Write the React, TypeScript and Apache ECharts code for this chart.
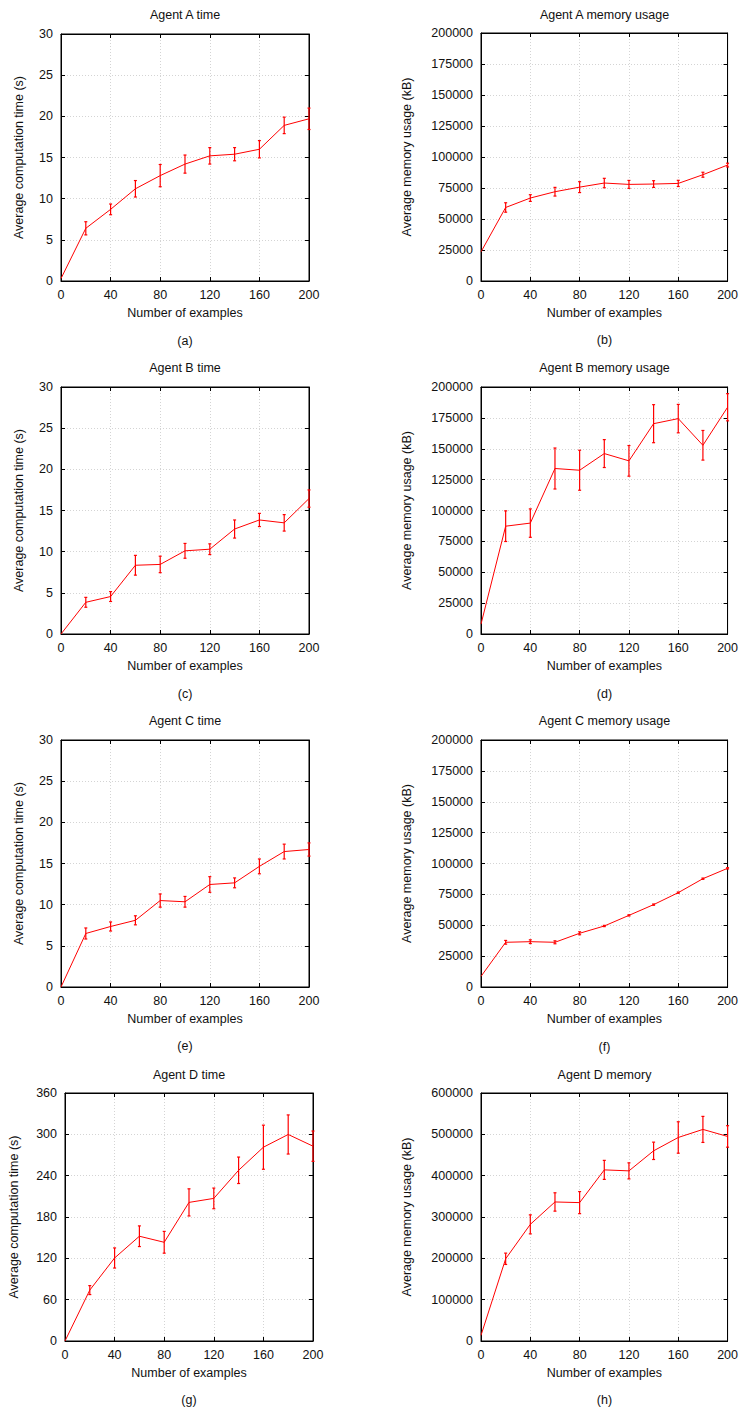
import React, { useEffect, useRef } from "react";
import * as echarts from "echarts";

const examples = [0, 20, 40, 60, 80, 100, 120, 140, 160, 180, 200];

const agentATimeMean = [0.3, 6.4, 8.7, 11.2, 12.8, 14.2, 15.2, 15.4, 16.0, 18.9, 19.7];
const agentATimeErr = [0, 0.8, 0.65, 1.0, 1.35, 1.1, 1.0, 0.8, 1.05, 1.0, 1.3];
const agentAMemMean = [23500, 59300, 66900, 72000, 75700, 79000, 77900, 78200, 78700, 85700, 93500];
const agentAMemErr = [0, 3800, 2700, 3500, 4400, 3800, 3200, 2700, 2500, 2000, 1500];
const agentBTimeMean = [0, 3.85, 4.55, 8.35, 8.45, 10.1, 10.3, 12.75, 13.85, 13.5, 16.45];
const agentBTimeErr = [0, 0.6, 0.6, 1.2, 1.0, 0.9, 0.65, 1.1, 0.8, 1.0, 1.05];
const agentBMemMean = [8000, 87300, 89800, 134000, 132600, 146100, 140200, 170300, 174400, 152800, 183600];
const agentBMemErr = [0, 12400, 11500, 16600, 16200, 11300, 12400, 15400, 11500, 12000, 11000];
const agentCTimeMean = [0, 6.5, 7.35, 8.1, 10.5, 10.35, 12.45, 12.65, 14.65, 16.45, 16.7];
const agentCTimeErr = [0, 0.67, 0.55, 0.55, 0.8, 0.65, 0.95, 0.6, 0.9, 0.9, 0.8];
const agentCMemMean = [8600, 36200, 36700, 36200, 43500, 49400, 58000, 66700, 76400, 87700, 96100];
const agentCMemErr = [0, 1500, 1500, 1200, 1200, 500, 500, 500, 500, 500, 500];
const agentDTimeMean = [0, 73.9, 120.5, 152.1, 143.3, 201.2, 207, 247.8, 281.3, 299.8, 282.8];
const agentDTimeErr = [0, 6.5, 14.6, 15, 15.8, 19.7, 15, 19.2, 32, 28.4, 22];
const agentDMemMean = [13700, 198900, 282200, 336400, 334800, 414000, 411600, 460100, 492400, 511900, 494900];
const agentDMemErr = [0, 13700, 23000, 22200, 26700, 23000, 19400, 21000, 38000, 31500, 26000];

const titles = [
  "Agent A time", "Agent A memory usage",
  "Agent B time", "Agent B memory usage",
  "Agent C time", "Agent C memory usage",
  "Agent D time", "Agent D memory",
];
const subLabels = ["(a)", "(b)", "(c)", "(d)", "(e)", "(f)", "(g)", "(h)"];
const xName = "Number of examples";
const timeName = "Average computation time (s)";
const memName = "Average memory usage (kB)";

const FONT = '"Liberation Sans", Arial, Helvetica, sans-serif';
const FS = 12.5;
const RED = "#ff0000";
const TEXT = "#111";

const panels = [
  { mean: agentATimeMean, err: agentATimeErr, yName: timeName, max: 30, interval: 5, grid: { left: 61, top: 34, width: 248, height: 247 }, nameGap: 36, titleY: 15, labelY: 340.5 },
  { mean: agentAMemMean, err: agentAMemErr, yName: memName, max: 200000, interval: 25000, grid: { left: 481, top: 33, width: 247, height: 248 }, nameGap: 68, titleY: 15, labelY: 340 },
  { mean: agentBTimeMean, err: agentBTimeErr, yName: timeName, max: 30, interval: 5, grid: { left: 61, top: 387, width: 248, height: 247 }, nameGap: 36, titleY: 367.7, labelY: 693.5 },
  { mean: agentBMemMean, err: agentBMemErr, yName: memName, max: 200000, interval: 25000, grid: { left: 481, top: 387, width: 247, height: 247 }, nameGap: 68, titleY: 368, labelY: 694 },
  { mean: agentCTimeMean, err: agentCTimeErr, yName: timeName, max: 30, interval: 5, grid: { left: 61, top: 740, width: 248, height: 247 }, nameGap: 36, titleY: 720.7, labelY: 1046 },
  { mean: agentCMemMean, err: agentCMemErr, yName: memName, max: 200000, interval: 25000, grid: { left: 481, top: 740, width: 247, height: 247 }, nameGap: 68, titleY: 721, labelY: 1047 },
  { mean: agentDTimeMean, err: agentDTimeErr, yName: timeName, max: 360, interval: 60, grid: { left: 65, top: 1093, width: 248, height: 248 }, nameGap: 45, titleY: 1075, labelY: 1400 },
  { mean: agentDMemMean, err: agentDMemErr, yName: memName, max: 600000, interval: 100000, grid: { left: 481, top: 1093, width: 247, height: 248 }, nameGap: 68, titleY: 1075, labelY: 1400 },
];

function ts() {
  return { fontFamily: FONT, fontSize: FS, color: TEXT };
}
function frame() {
  return { show: true, onZero: false, lineStyle: { color: "#000", width: 1 } };
}
function tick() {
  return { show: true, inside: true, length: 4, lineStyle: { color: "#000", width: 1 } };
}
function split() {
  return { show: true, showMinLine: false, showMaxLine: false, lineStyle: { color: "#d4d4d4", type: [1, 2], width: 1 } };
}

function buildOption() {
  const grids: any[] = [];
  const xAxes: any[] = [];
  const yAxes: any[] = [];
  const series: any[] = [];
  const graphics: any[] = [];

  panels.forEach((p, i) => {
    grids.push({ ...p.grid, show: true, borderColor: "#000", borderWidth: 1, backgroundColor: "transparent" });
    xAxes.push({
      type: "value", gridIndex: i, min: 0, max: 200, interval: 40, position: "bottom",
      name: xName, nameLocation: "middle", nameGap: 25, nameTextStyle: ts(),
      axisLine: frame(), axisTick: tick(),
      axisLabel: { ...ts(), margin: 7, formatter: (v: number) => String(v) },
      splitLine: split(),
    });
    xAxes.push({
      type: "value", gridIndex: i, min: 0, max: 200, interval: 40, position: "top",
      axisLine: frame(), axisTick: tick(),
      axisLabel: { show: false }, splitLine: { show: false },
    });
    yAxes.push({
      type: "value", gridIndex: i, min: 0, max: p.max, interval: p.interval, position: "left",
      name: p.yName, nameLocation: "middle", nameGap: p.nameGap, nameRotate: 90, nameTextStyle: ts(),
      axisLine: frame(), axisTick: tick(),
      axisLabel: { ...ts(), margin: 8, formatter: (v: number) => String(v) },
      splitLine: split(),
    });
    yAxes.push({
      type: "value", gridIndex: i, min: 0, max: p.max, interval: p.interval, position: "right",
      axisLine: frame(), axisTick: tick(),
      axisLabel: { show: false }, splitLine: { show: false },
    });

    series.push({
      type: "line", xAxisIndex: 2 * i, yAxisIndex: 2 * i,
      data: examples.map((x, k) => [x, p.mean[k]]),
      symbol: "none", showSymbol: false,
      lineStyle: { color: RED, width: 1 }, itemStyle: { color: RED },
      z: 3,
    });

    const errData = examples
      .map((x, k) => [x, p.mean[k] - p.err[k], p.mean[k] + p.err[k]])
      .filter((d) => d[2] - d[1] > 0);

    series.push({
      type: "custom", xAxisIndex: 2 * i, yAxisIndex: 2 * i,
      data: errData,
      encode: { x: 0, y: [1, 2] },
      z: 4,
      renderItem: (params: any, api: any) => {
        const x = api.value(0);
        const lo = api.coord([x, api.value(1)]);
        const hi = api.coord([x, api.value(2)]);
        const c = 1.5;
        const st = { stroke: RED, lineWidth: 1.2 };
        return {
          type: "group",
          children: [
            { type: "line", shape: { x1: lo[0], y1: lo[1], x2: hi[0], y2: hi[1] }, style: st },
            { type: "line", shape: { x1: lo[0] - c, y1: lo[1], x2: lo[0] + c, y2: lo[1] }, style: st },
            { type: "line", shape: { x1: hi[0] - c, y1: hi[1], x2: hi[0] + c, y2: hi[1] }, style: st },
          ],
        };
      },
    });

    const cx = p.grid.left + p.grid.width / 2;
    graphics.push({
      type: "text", x: cx, y: p.titleY,
      style: { text: titles[i], fontFamily: FONT, fontSize: FS, fill: TEXT, align: "center", verticalAlign: "middle" },
    });
    graphics.push({
      type: "text", x: cx, y: p.labelY,
      style: { text: subLabels[i], fontFamily: FONT, fontSize: FS, fill: TEXT, align: "center", verticalAlign: "middle" },
    });
  });

  return {
    animation: false,
    backgroundColor: "#ffffff",
    grid: grids,
    xAxis: xAxes,
    yAxis: yAxes,
    series,
    graphic: graphics,
  };
}

export default function App() {
  const ref = useRef<HTMLDivElement>(null);
  useEffect(() => {
    if (!ref.current) return;
    const chart = echarts.init(ref.current, undefined, { renderer: "svg" });
    chart.setOption(buildOption());
    return () => chart.dispose();
  }, []);
  return (
    <div
      ref={ref}
      style={{ position: "absolute", left: 0, top: 0, width: 741, height: 1409, background: "#fff" }}
    />
  );
}
